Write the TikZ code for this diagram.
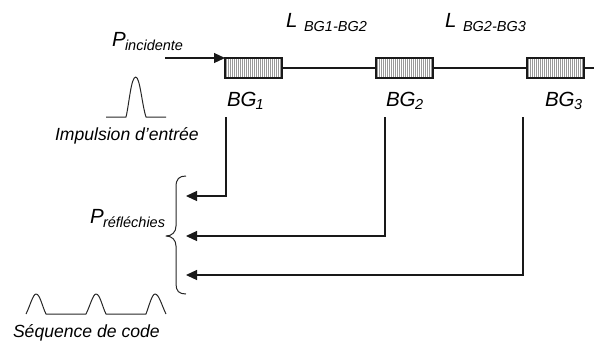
\documentclass[tikz,border=0pt]{standalone}
\usepackage{fontspec}
\setmainfont{Liberation Sans}
\usetikzlibrary{arrows.meta}
\tikzset{
  x=1pt,y=-1pt,
  wire/.style={line width=1.2pt,black!90},
  arrowwire/.style={wire,-{Triangle[length=11pt,width=10pt]}},
  pulse/.style={line width=1pt,black!85,line join=round},
  grating/.style={draw=black!90,line width=1.3pt,minimum width=57pt,minimum height=20pt,inner sep=0pt,outer sep=0pt,fill=black!40,
    path picture={\foreach \i in {1,...,28}{\draw[white,line width=0.7pt] ([xshift=2*\i pt]path picture bounding box.south west) -- ([xshift=2*\i pt]path picture bounding box.north west);}}},
  lab/.style={inner sep=0pt,outer sep=0pt,anchor=base west,font=\itshape\fontsize{20.5}{20.5}\selectfont},
  sublab/.style={inner sep=0pt,outer sep=0pt,anchor=base west,font=\itshape\fontsize{14.5}{14.5}\selectfont},
  captionlab/.style={inner sep=0pt,outer sep=0pt,anchor=base west,font=\itshape\fontsize{17.6}{17.6}\selectfont},
}
\begin{document}
\begin{tikzpicture}
\useasboundingbox (0,0) rectangle (594,341);
% gratings
\node[grating] (bg1) at (253.5,68) {};
\node[grating] (bg2) at (404.5,68) {};
\node[grating] (bg3) at (555.5,68) {};
\coordinate (fibreEnd) at (594,68);
\draw[wire] (bg1) -- (bg2);
\draw[wire] (bg2) -- (bg3);
\draw[wire] (bg3) -- (fibreEnd);
% incident
\coordinate (inStart) at (165,58);
\coordinate (inEnd) at (225,58);
\draw[arrowwire] (inStart) -- (inEnd);
% labels
\node[lab] (pinc) at (112,46) {P};
\node[sublab] (pincs) at (125,50) {incidente};
\node[lab] (l1) at (286,27) {L};
\node[sublab] (l1s) at (304,31) {BG1-BG2};
\node[lab] (l2) at (445,27) {L};
\node[sublab] (l2s) at (463,31) {BG2-BG3};
\node[lab] (b1) at (227,106) {BG};
\node[sublab] (b1s) at (255.5,109) {1};
\node[lab] (b2) at (386,106) {BG};
\node[sublab] (b2s) at (415,109) {2};
\node[lab] (b3) at (545,106) {BG};
\node[sublab] (b3s) at (574,109) {3};
\node[captionlab] (imp) at (55,140) {Impulsion d'entrée};
\node[lab] (pref) at (90,223) {P};
\node[sublab] (prefs) at (103,227) {réfléchies};
\node[captionlab] (seq) at (13,337) {Séquence de code};
% reflected
\coordinate (r1s) at (226,117); \coordinate (r1c) at (226,196); \coordinate (r1e) at (186,196);
\coordinate (r2s) at (385,117); \coordinate (r2c) at (385,236); \coordinate (r2e) at (186,236);
\coordinate (r3s) at (523,117); \coordinate (r3c) at (523,275); \coordinate (r3e) at (186,275);
\draw[arrowwire] (r1s) -- (r1c) -- (r1e);
\draw[arrowwire] (r2s) -- (r2c) -- (r2e);
\draw[arrowwire] (r3s) -- (r3c) -- (r3e);
% brace
\draw[pulse] (186,176) .. controls (179,176) and (176,179) .. (176,187) -- (176,226)
  .. controls (176,232) and (172,236) .. (166,236)
  .. controls (172,236) and (176,240) .. (176,246) -- (176,284)
  .. controls (176,291) and (179,294) .. (186,294);
% input pulse
\draw[pulse] (106,117) -- (126,117) .. controls (129,105) and (131,77) .. (135.7,77)
  .. controls (140,77) and (142,105) .. (146,117) -- (166,117);
% code
\draw[pulse] (26,314) .. controls (30,306) and (33,294) .. (36,294) .. controls (40,294) and (42,306) .. (46,314) -- (86,314)
  .. controls (90,306) and (93,294) .. (96,294) .. controls (100,294) and (102,306) .. (106,314) -- (146,314)
  .. controls (149,306) and (152,294) .. (155,294) .. controls (159,294) and (162,306) .. (166,314);
\end{tikzpicture}
\end{document}
